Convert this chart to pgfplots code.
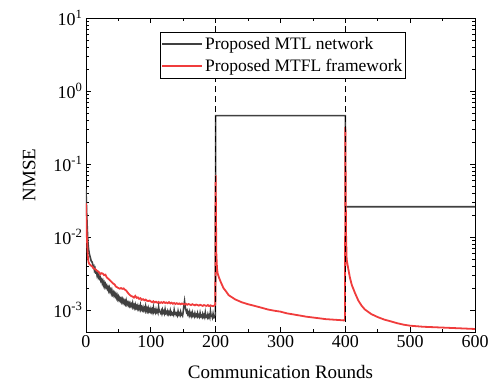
\documentclass[border=0pt]{standalone}
\usepackage{fontspec}
\setmainfont{Liberation Serif}
\usepackage{pgfplots}
\pgfplotsset{compat=1.18}

\definecolor{mtlgray}{RGB}{64,64,64}
\definecolor{mtflred}{RGB}{240,60,60}

\begin{document}
\begin{tikzpicture}
\path[use as bounding box] (-86pt,-57pt) rectangle (404pt,332pt);
\begin{axis}[
  scale only axis,
  width=389pt, height=314pt,
  xmin=0, xmax=600,
  ymode=log, ymin=5e-4, ymax=10,
  xtick={0,100,...,600},
  minor xtick={50,150,...,550},
  ytick={1e-3,1e-2,1e-1,1,10},
  yticklabels={10\textsuperscript{-3},10\textsuperscript{-2},10\textsuperscript{-1},10\textsuperscript{0},10\textsuperscript{1}},
  tick align=inside,
  tick pos=both,
  major tick length=5pt,
  minor tick length=3pt,
  every tick/.style={black, line width=0.8pt},
  axis line style={line width=0.9pt},
  /pgf/number format/assume math mode=true,
  ticklabel style={font=\fontsize{18}{18}\selectfont},
  xlabel={Communication Rounds},
  ylabel={NMSE},
  label style={font=\fontsize{19}{19}\selectfont},
  xlabel style={yshift=-11pt},
  ylabel style={yshift=11pt},
  legend cell align=left,
  legend style={
    at={(0.19,0.955)}, anchor=north west,
    font=\fontsize{17.5}{17.5}\selectfont,
    draw=black, line width=0.8pt,
    inner xsep=1pt, inner ysep=3pt,
    row sep=4pt,
  },
  legend image code/.code={\draw[#1, line width=1.8pt] (0pt,0pt) -- (40pt,0pt);},
]

% Proposed MTL network
\addplot[mtlgray, line width=1.6pt] coordinates {
(0,0.045) (1,0.022) (2,0.013) (3,0.0085) (4,0.0068) (5,0.006) (6,0.0055) (7,0.0051) (8,0.0047) (9,0.0046)
(10,44e-4) (11,39e-4) (12,40e-4) (13,35e-4) (14,37e-4) (15,33e-4) (16,34e-4) (17,30e-4) (18,32e-4) (19,28e-4)
(20,29.5e-4) (21,27e-4) (22,28e-4) (23,25e-4) (24,26e-4) (25,23.5e-4) (26,25e-4) (27,22e-4) (28,23.5e-4) (29,21e-4)
(30,22.5e-4) (31,20.5e-4) (32,21.5e-4) (33,19.5e-4) (34,20.5e-4) (35,18.5e-4) (36,20e-4) (37,18e-4) (38,19e-4) (39,17e-4)
(40,18.5e-4) (41,16.5e-4) (42,17.5e-4) (43,16e-4) (44,17e-4) (45,15.5e-4) (46,16.5e-4) (47,14.8e-4) (48,15.8e-4) (49,14.2e-4)
(50,15.2e-4) (51,13.8e-4) (52,14.6e-4) (53,13.4e-4) (54,14.2e-4) (55,13e-4) (56,14e-4) (57,12.8e-4) (58,13.6e-4) (59,12.4e-4)
(60,13.2e-4) (61,12.2e-4) (62,13.4e-4) (63,12e-4) (64,12.6e-4) (65,11.7e-4) (66,12.5e-4) (67,11.5e-4) (68,12.3e-4) (69,11.4e-4)
(70,12e-4) (71,11.2e-4) (72,12.4e-4) (73,11e-4) (74,11.6e-4) (75,10.8e-4) (76,11.8e-4) (77,10.7e-4) (78,11.3e-4) (79,10.5e-4)
(80,11.4e-4) (81,10.4e-4) (82,11e-4) (83,10.3e-4) (84,11.6e-4) (85,10.2e-4) (86,10.8e-4) (87,10.1e-4) (88,10.9e-4) (89,10e-4)
(90,10.6e-4) (91,9.9e-4) (92,11.2e-4) (93,9.8e-4) (94,10.4e-4) (95,9.7e-4) (96,10.6e-4) (97,9.6e-4) (98,10.2e-4) (99,9.6e-4)
(100,10.4e-4) (101,9.5e-4) (102,10.1e-4) (103,9.4e-4) (104,10.8e-4) (105,9.5e-4) (106,9.9e-4) (107,9.3e-4) (108,10.2e-4) (109,9.4e-4)
(110,9.8e-4) (111,9.2e-4) (112,11e-4) (113,9.6e-4) (114,9.4e-4) (115,9.1e-4) (116,9.7e-4) (117,9.0e-4) (118,10e-4) (119,9.2e-4)
(120,9.6e-4) (121,9.0e-4) (122,10.2e-4) (123,9.1e-4) (124,9.4e-4) (125,8.9e-4) (126,9.6e-4) (127,8.8e-4) (128,9.3e-4) (129,8.9e-4)
(130,9.8e-4) (131,8.8e-4) (132,9.2e-4) (133,8.7e-4) (134,9.0e-4) (135,8.6e-4) (136,10e-4) (137,8.9e-4) (138,9.1e-4) (139,8.6e-4)
(140,9.0e-4) (141,8.5e-4) (142,9.6e-4) (143,8.7e-4) (144,9.0e-4) (145,8.5e-4) (146,9.4e-4) (147,8.6e-4) (148,8.8e-4) (149,8.4e-4)
(150,9.6e-4) (151,11.5e-4) (152,13.2e-4) (153,11e-4) (154,10.2e-4) (155,9.4e-4) (156,9.8e-4) (157,8.8e-4) (158,9.2e-4) (159,8.5e-4)
(160,9.4e-4) (161,8.5e-4) (162,8.9e-4) (163,8.3e-4) (164,9.2e-4) (165,8.4e-4) (166,8.7e-4) (167,8.2e-4) (168,9.0e-4) (169,8.3e-4)
(170,8.6e-4) (171,8.2e-4) (172,9.0e-4) (173,8.2e-4) (174,8.5e-4) (175,8.1e-4) (176,9.1e-4) (177,8.2e-4) (178,8.4e-4) (179,8.0e-4)
(180,8.8e-4) (181,8.1e-4) (182,8.5e-4) (183,8.0e-4) (184,9.2e-4) (185,8.1e-4) (186,8.3e-4) (187,7.9e-4) (188,8.7e-4) (189,8.0e-4)
(190,8.4e-4) (191,7.9e-4) (192,9.6e-4) (193,8.3e-4) (194,8.4e-4) (195,7.9e-4) (196,8.9e-4) (197,8.0e-4) (198,8.2e-4) (199,7.9e-4)
(199.6,8.6e-4)
(200,0.46) (400,0.46) (400,0.026) (600,0.026)
};
\addlegendentry{Proposed MTL network}

% Proposed MTFL framework
\addplot[mtflred, line width=1.8pt] coordinates {
(0,0.029) (1,0.012) (2,0.0075) (3,0.0052) (4,0.0045) (5,0.0043) (6,0.0042) (8,0.00405) (10,0.0039)
(12,0.0037) (14,0.00365) (16,0.0035) (18,0.0034) (20,0.0033) (22,0.0031) (24,0.0032)
(26,0.00315) (28,0.0030) (30,0.00305) (32,0.0028) (34,0.0027) (36,0.0026) (38,0.0025)
(40,0.0024) (42,0.0023) (44,0.00225) (46,0.0021) (48,0.00205) (50,0.0020) (52,0.00196)
(54,0.0020) (56,0.00195) (58,0.00198) (60,0.0019) (62,0.00185) (64,0.00175) (66,0.00166)
(68,0.0016) (70,0.00155) (72,0.00153) (74,0.00148) (76,0.00156) (78,0.00147) (80,0.00149)
(82,0.00142) (84,0.00145) (86,0.00138) (88,0.00141) (90,0.00136) (92,0.00139) (94,0.00134)
(96,0.00133) (98,0.00135) (100,0.00131) (102,0.00128) (104,0.00132) (106,0.00127)
(108,0.0013) (110,0.00126) (112,0.00129) (114,0.00125) (116,0.00128) (118,0.00125)
(120,0.00129) (122,0.00125) (124,0.00127) (126,0.00124) (128,0.00128) (130,0.00123)
(132,0.00126) (134,0.00122) (136,0.00125) (138,0.00121) (140,0.00124) (142,0.00121)
(144,0.00123) (146,0.0012) (148,0.00123) (150,0.00121) (152,0.00119) (154,0.00122)
(156,0.00118) (158,0.00121) (160,0.00119) (162,0.00117) (164,0.0012) (166,0.00118)
(168,0.00116) (170,0.00119) (172,0.00117) (174,0.00115) (176,0.00118) (178,0.00116)
(180,0.00114) (182,0.00117) (184,0.00115) (186,0.00114) (188,0.00117) (190,0.00113)
(192,0.00116) (194,0.00114) (196,0.00113) (198,0.00115) (199.5,0.0012)
(200,0.07) (200.5,0.02) (201,0.006) (202,0.0038) (203,0.0032) (205,0.0028) (208,0.0024)
(212,0.002) (216,0.0018) (220,0.0016) (230,0.0014) (240,0.00128) (250,0.0012)
(260,0.00114) (270,0.00108) (280,0.00102) (290,0.00098) (300,0.00095) (310,0.0009)
(320,0.00087) (330,0.00084) (340,0.00081) (350,0.00079) (360,0.00077) (370,0.00075)
(380,0.00074) (390,0.00073) (398,0.00072) (399.5,0.00075)
(400,0.32) (400.5,0.06) (401,0.012) (402,0.005) (404,0.0039) (407,0.0028) (410,0.0022)
(415,0.0017) (420,0.00135) (425,0.00115) (430,0.00102) (440,0.00088) (450,0.0008)
(460,0.00074) (470,0.0007) (480,0.00066) (490,0.00063) (500,0.00061) (520,0.00059)
(540,0.00058) (560,0.00057) (580,0.00056) (600,0.00055)
};
\addlegendentry{Proposed MTFL framework}

% task switch markers
\addplot[black, line width=1pt, dash pattern=on 6pt off 4pt, forget plot] coordinates {(200,5e-4) (200,10)};
\addplot[black, line width=1pt, dash pattern=on 6pt off 4pt, forget plot] coordinates {(400,5e-4) (400,10)};
\end{axis}
\end{tikzpicture}
\end{document}
